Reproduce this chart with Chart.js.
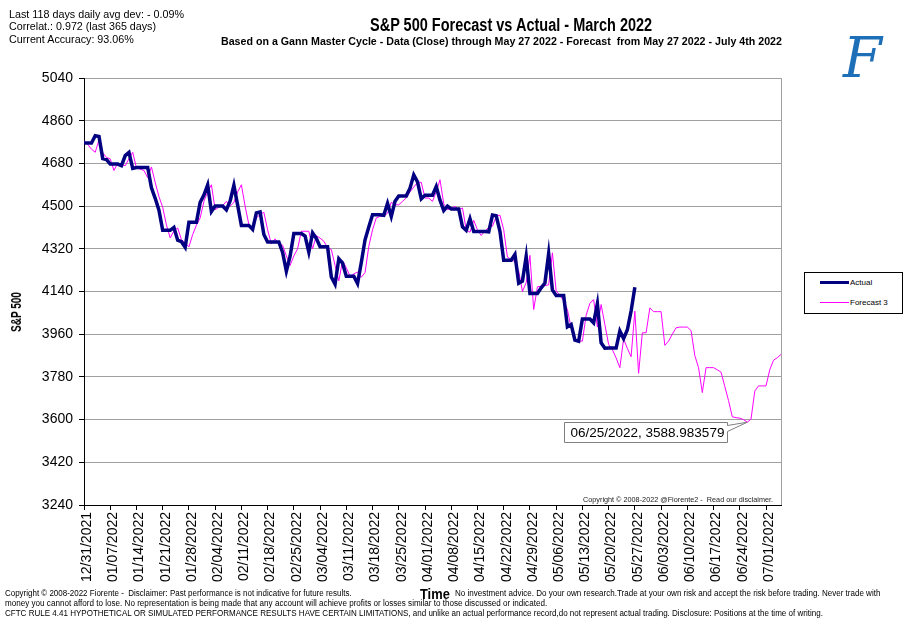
<!DOCTYPE html>
<html>
<head>
<meta charset="utf-8">
<script src="https://cdn.jsdelivr.net/npm/chart.js@4.4.1/dist/chart.umd.min.js"></script>
<style>
body { margin: 0; background: #fff; font-family: "Liberation Sans", Arial, sans-serif; }
#wrap { position: relative; width: 909px; height: 620px; overflow: hidden; }
canvas { position: absolute; left: 0; top: 0; }
.t { position: absolute; white-space: nowrap; line-height: 1; transform-origin: 0 0; color: #000; }
.b { font-weight: bold; }
#legend { position: absolute; left: 804px; top: 272px; width: 97px; height: 40px; border: 1px solid #000; background: #fff; }
.sw { position: absolute; left: 15px; width: 29px; }
.lt { position: absolute; left: 45px; font-size: 8px; line-height: 1; white-space: nowrap; }
#logo { position: absolute; left: 843px; top: 30px; font-family: "DejaVu Serif", serif; font-style: italic; font-size: 56px; color: #1d6fb8; line-height: 1; }
</style>
</head>
<body>
<div id="wrap">
  <canvas id="chart" width="909" height="620"></canvas>

  <div class="t" style="left:9px;top:8.5px;font-size:11px" data-w="175">Last 118 days daily avg dev: - 0.09%</div>
  <div class="t" style="left:9px;top:21px;font-size:11px" data-w="147">Correlat.: 0.972 (last 365 days)</div>
  <div class="t" style="left:9px;top:33.5px;font-size:11px" data-w="125">Current Accuracy: 93.06%</div>

  <div class="t b" style="left:370px;top:16px;font-size:18px" data-w="282">S&amp;P 500 Forecast vs Actual - March 2022</div>
  <div class="t b" style="left:221px;top:35.5px;font-size:11px" data-w="561">Based on a Gann Master Cycle - Data (Close) through May 27 2022 - Forecast&nbsp; from May 27 2022 - July 4th 2022</div>

  <div id="logo">F</div>

  <div class="t b" id="ytitle" style="left:16px;top:312px;font-size:14px">S&amp;P 500</div>

  <div class="t" style="left:583px;top:495.5px;font-size:7px;color:#222" data-w="190">Copyright © 2008-2022 @Fiorente2 -&nbsp; Read our disclaimer.</div>

  <div id="legend">
    <div class="sw" style="top:8px;height:3px;background:#000080"></div>
    <div class="lt" style="top:5.5px">Actual</div>
    <div class="sw" style="top:29px;height:1px;background:#ff00ff"></div>
    <div class="lt" style="top:26px">Forecast 3</div>
  </div>

  <div class="t" style="left:5px;top:589px;font-size:8.5px" data-w="347">Copyright © 2008-2022 Fiorente -&nbsp; Disclaimer: Past performance is not indicative for future results.</div>
  <div class="t b" style="left:420px;top:586px;font-size:15px" data-w="30">Time</div>
  <div class="t" style="left:455px;top:589px;font-size:8.5px" data-w="425">No investment advice. Do your own research.Trade at your own risk and accept the risk before trading. Never trade with</div>
  <div class="t" style="left:5px;top:599px;font-size:8.5px" data-w="542">money you cannot afford to lose. No representation is being made that any account will achieve profits or losses similar to those discussed or indicated.</div>
  <div class="t" style="left:5px;top:609px;font-size:8.5px" data-w="818">CFTC RULE 4.41 HYPOTHETICAL OR SIMULATED PERFORMANCE RESULTS HAVE CERTAIN LIMITATIONS, and unlike an actual performance record,do not represent actual trading. Disclosure: Positions at the time of writing.</div>
</div>

<script>
// one category per calendar day, 12/31/2021 .. 07/05/2022
const firstDay = new Date(2021, 11, 31);
const dayCount = 187;
const dates = [];
for (let i = 0; i < dayCount; i++) {
    const d = new Date(firstDay.getFullYear(), firstDay.getMonth(), firstDay.getDate() + i);
    const mm = String(d.getMonth() + 1).padStart(2, "0");
    const dd = String(d.getDate()).padStart(2, "0");
    dates.push(mm + "/" + dd + "/" + d.getFullYear());
}

// S&P 500 close, weekends/holidays carry the last close (12/31/2021 .. 05/27/2022)
const actual = [
    4766.18, 4766.18, 4766.18, 4796.56, 4793.54, 4700.58, 4696.05,
    4677.03, 4677.03, 4677.03, 4670.29, 4713.07, 4726.35, 4659.03,
    4662.85, 4662.85, 4662.85, 4662.85, 4577.11, 4532.76, 4482.73,
    4397.94, 4397.94, 4397.94, 4410.13, 4356.45, 4349.93, 4326.51,
    4431.85, 4431.85, 4431.85, 4515.55, 4546.54, 4589.38, 4477.44,
    4500.53, 4500.53, 4500.53, 4483.87, 4521.54, 4587.18, 4504.08,
    4418.64, 4418.64, 4418.64, 4401.67, 4471.07, 4475.01, 4380.26,
    4348.87, 4348.87, 4348.87, 4348.87, 4304.76, 4225.50, 4288.70,
    4384.65, 4384.65, 4384.65, 4373.94, 4306.26, 4386.54, 4363.49,
    4328.87, 4328.87, 4328.87, 4201.09, 4170.70, 4277.88, 4259.52,
    4204.31, 4204.31, 4204.31, 4173.11, 4262.45, 4357.86, 4411.67,
    4463.12, 4463.12, 4463.12, 4461.18, 4511.61, 4456.24, 4520.16,
    4543.06, 4543.06, 4543.06, 4575.52, 4631.60, 4602.45, 4530.41,
    4545.86, 4545.86, 4545.86, 4582.64, 4525.12, 4481.15, 4500.21,
    4488.28, 4488.28, 4488.28, 4412.53, 4397.45, 4446.59, 4392.59,
    4392.59, 4392.59, 4392.59, 4391.69, 4462.21, 4459.45, 4393.66,
    4271.78, 4271.78, 4271.78, 4296.12, 4175.20, 4183.96, 4287.50,
    4131.93, 4131.93, 4131.93, 4155.38, 4175.48, 4300.17, 4146.87,
    4123.34, 4123.34, 4123.34, 3991.24, 4001.05, 3935.18, 3930.08,
    4023.89, 4023.89, 4023.89, 4008.01, 4088.85, 3923.68, 3900.79,
    3901.36, 3901.36, 3901.36, 3973.75, 3941.48, 3978.73, 4057.84,
    4158.24
];

// Forecast 3 (12/31/2021 .. 07/05/2022)
const forecast = [
    4775, 4760, 4740, 4727, 4779, 4725, 4705,
    4699, 4650, 4681, 4675, 4670, 4700, 4727,
    4660, 4656, 4650, 4620, 4665, 4600, 4540,
    4495, 4420, 4366, 4395, 4408, 4359, 4345,
    4328, 4380, 4420, 4450, 4520, 4560, 4590,
    4485, 4495, 4502, 4520, 4500, 4515, 4560,
    4590, 4499, 4422, 4410, 4450, 4465, 4474,
    4400, 4340, 4362, 4340, 4335, 4290, 4250,
    4290, 4320, 4394, 4394, 4394, 4320, 4375,
    4365, 4352, 4325, 4317, 4250, 4185, 4270,
    4240, 4205, 4214, 4222, 4200, 4220, 4330,
    4400, 4450, 4457, 4457, 4470, 4516, 4506,
    4505, 4520, 4535, 4560, 4580, 4600, 4600,
    4534, 4534, 4520, 4560, 4611, 4510, 4485,
    4490, 4499, 4485, 4492, 4400, 4390, 4440,
    4400, 4376, 4395, 4410, 4415, 4457, 4462,
    4400, 4285, 4275, 4265, 4226, 4140, 4177,
    4292, 4064, 4160, 4162, 4165, 4168, 4303,
    4142, 4125, 4100, 4064, 3987, 3938, 3931,
    3931, 4040, 4090, 4106, 3990, 4085, 4000,
    3917, 3895, 3860, 3819, 3940, 3900, 3865,
    4057, 3795, 3966, 3966, 4071, 4055, 4055,
    4055, 3913, 3931, 3960, 3987, 3990, 3990,
    3990, 3975, 3870, 3819, 3714, 3819, 3819,
    3819, 3810, 3800, 3740, 3680, 3612, 3608,
    3606, 3600, 3588.983579, 3602, 3720, 3742, 3742,
    3742, 3810, 3850, 3861, 3875
];

const yMin = 3240;
const yMax = 5040;
const yStep = 180;
const tickEvery = 7;
const calloutIndex = 177;
const calloutText = "06/25/2022, 3588.983579";

// stretch/squeeze the html texts to the widths seen in the picture
document.querySelectorAll("[data-w]").forEach(el => {
    const w = parseFloat(el.dataset.w);
    el.style.transform = "scaleX(" + (w / el.offsetWidth) + ")";
});
const yt = document.getElementById("ytitle");
yt.style.transformOrigin = "50% 50%";
yt.style.transform = "translate(-50%, -50%) rotate(-90deg) scaleX(" + (40 / yt.offsetWidth) + ")";

const framePlugin = {
    id: "frame",
    afterDatasetsDraw(chart) {
        const { ctx, chartArea, scales } = chart;
        ctx.save();
        ctx.strokeStyle = "#a0a0a0";
        ctx.lineWidth = 1;
        const rx = Math.round(chartArea.right) + 0.5;
        ctx.beginPath();
        ctx.moveTo(rx, chartArea.top);
        ctx.lineTo(rx, chartArea.bottom);
        ctx.stroke();

        const px = scales.x.getPixelForValue(calloutIndex);
        const py = scales.y.getPixelForValue(forecast[calloutIndex]);
        const bw = 163, bh = 20;
        const bx = Math.round(px - 20 - bw) + 0.5;
        const by = Math.round(py) + 0.5;
        ctx.fillStyle = "#fff";
        ctx.strokeStyle = "#7f7f7f";
        ctx.beginPath();
        ctx.moveTo(bx, by);
        ctx.lineTo(bx + bw, by);
        ctx.lineTo(bx + bw, by + 3);
        ctx.lineTo(px, py);
        ctx.lineTo(bx + bw, by + 9);
        ctx.lineTo(bx + bw, by + bh);
        ctx.lineTo(bx, by + bh);
        ctx.closePath();
        ctx.fill();
        ctx.stroke();
        ctx.fillStyle = "#000";
        ctx.font = '13.5px "Liberation Sans", Arial, sans-serif';
        ctx.textBaseline = "middle";
        ctx.fillText(calloutText, bx + 6, by + bh / 2 + 1);
        ctx.restore();
    }
};

Chart.defaults.font.family = '"Liberation Sans", Arial, sans-serif';
Chart.defaults.color = "#000";

const ctx = document.getElementById("chart").getContext("2d");
new Chart(ctx, {
    type: "line",
    data: {
        labels: dates,
        datasets: [{
            label: "Actual",
            data: actual,
            borderColor: "#000080",
            borderWidth: 3.5,
            pointRadius: 0,
            tension: 0
        }, {
            label: "Forecast 3",
            data: forecast,
            borderColor: "#ff00ff",
            borderWidth: 1,
            pointRadius: 0,
            tension: 0
        }]
    },
    options: {
        responsive: false,
        animation: false,
        layout: { padding: { top: 78, right: 128, bottom: 30, left: 0 } },
        plugins: {
            legend: { display: false },
            tooltip: { enabled: false }
        },
        scales: {
            x: {
                type: "category",
                offset: false,
                grid: { drawOnChartArea: false, color: "#000", tickLength: 5 },
                border: { color: "#000" },
                ticks: {
                    autoSkip: false,
                    minRotation: 90,
                    maxRotation: 90,
                    font: { size: 14 },
                    padding: 2,
                    labelOffset: 3,
                    callback: (v, i) => (i % tickEvery === 0 ? dates[i] : null)
                },
                afterFit: s => { s.height = 85; }
            },
            y: {
                min: yMin,
                max: yMax,
                ticks: { stepSize: yStep, font: { size: 14 }, padding: 6, callback: v => String(v) },
                grid: { color: "#a0a0a0", tickColor: "#000", tickLength: 5 },
                border: { color: "#000" },
                afterFit: s => { s.width = 84; }
            }
        }
    },
    plugins: [framePlugin]
});
</script>
</body>
</html>
